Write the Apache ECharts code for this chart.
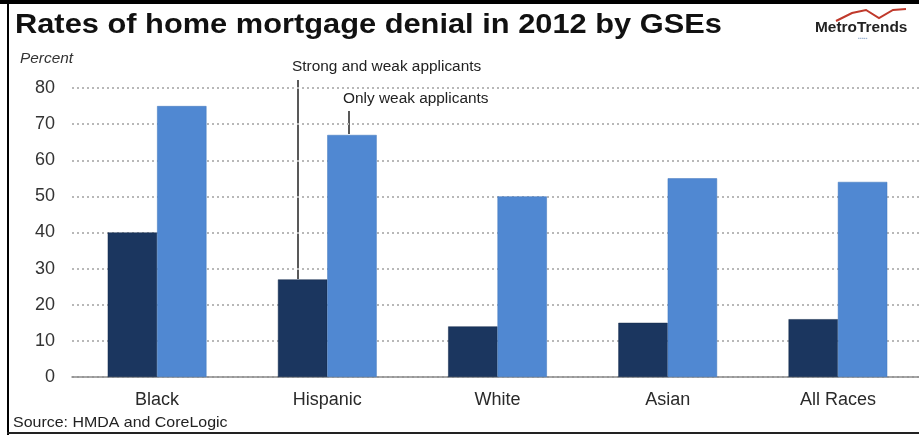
<!DOCTYPE html>
<html><head><meta charset="utf-8">
<script src="https://cdn.jsdelivr.net/npm/echarts@6/dist/echarts.min.js"></script>
<style>html,body{margin:0;padding:0;background:#fff}#c{width:919px;height:435px}</style>
</head><body><div id="c"></div>
<script>
const categories = ['Black', 'Hispanic', 'White', 'Asian', 'All Races'];
const strongAndWeak = [40, 27, 14, 15, 16];
const onlyWeak = [75, 67, 50, 55, 54];
const yTicks = [0, 10, 20, 30, 40, 50, 60, 70, 80];

const chart = echarts.init(document.getElementById('c'), null, {renderer: 'canvas'});
const F = 'Liberation Sans, Arial, sans-serif';
function txt(x, y, text, font, fill) {
  return {type: 'text', x: x, y: y, scaleX: 1.1,
    style: {text: text, font: font, fill: fill, verticalAlign: 'top', align: 'left'}};
}
chart.setOption({
  animation: false,
  grid: {left: 72, width: 851, top: 88, bottom: 58, outerBoundsMode: 'none', containLabel: false},
  xAxis: {
    type: 'category', data: categories,
    axisLine: {lineStyle: {color: '#8a8a8a', width: 1.5}},
    axisTick: {show: false},
    axisLabel: {fontFamily: F, fontSize: 18, color: '#2a2a2a', margin: 14}
  },
  yAxis: {
    type: 'value', min: yTicks[0], max: yTicks[yTicks.length - 1], interval: 10,
    axisLine: {show: false}, axisTick: {show: false},
    axisLabel: {fontFamily: F, fontSize: 18, color: '#333', margin: 17},
    splitLine: {lineStyle: {color: '#b8b8b8', width: 2, type: [2, 3]}}
  },
  series: [
    {type: 'bar', name: 'Strong and weak applicants', data: strongAndWeak, barGap: '0%', barCategoryGap: '42%',
     itemStyle: {color: '#1b365f', borderColor: '#152a4a', borderWidth: 0.5}},
    {type: 'bar', name: 'Only weak applicants', data: onlyWeak, barGap: '0%', barCategoryGap: '42%',
     itemStyle: {color: '#5088d2', borderColor: '#3f74bb', borderWidth: 0.5}}
  ],
  graphic: [
    {type: 'rect', shape: {x: 0, y: 0, width: 919, height: 4}, style: {fill: '#000'}},
    {type: 'rect', shape: {x: 7, y: 0, width: 2, height: 435}, style: {fill: '#000'}},
    {type: 'rect', shape: {x: 7, y: 432, width: 912, height: 2}, style: {fill: '#222'}},
    txt(15, 11, 'Rates of home mortgage denial in 2012 by GSEs', 'bold 28px ' + F, '#111'),
    {type: 'polyline', shape: {points: [[836, 21], [852, 13], [866, 10], [879, 18], [893, 10], [906, 9]]}, style: {stroke: '#c0392b', lineWidth: 2, fill: null}},
    txt(815, 21, 'MetroTrends', 'bold 14px ' + F, '#222'),
    txt(858, 36, '▪▪▪▪▪', '5px ' + F, '#9fb6d3'),
    txt(20, 52, 'Percent', 'italic 14px ' + F, '#333'),
    txt(292, 60, 'Strong and weak applicants', '14px ' + F, '#222'),
    {type: 'line', shape: {x1: 298, y1: 80, x2: 298, y2: 279}, style: {stroke: '#222', lineWidth: 1.5}},
    txt(343, 92, 'Only weak applicants', '14px ' + F, '#222'),
    {type: 'line', shape: {x1: 349, y1: 111, x2: 349, y2: 134}, style: {stroke: '#222', lineWidth: 1.5}},
    txt(13, 415, 'Source: HMDA and CoreLogic', '14.5px ' + F, '#222')
  ]
});
</script></body></html>
